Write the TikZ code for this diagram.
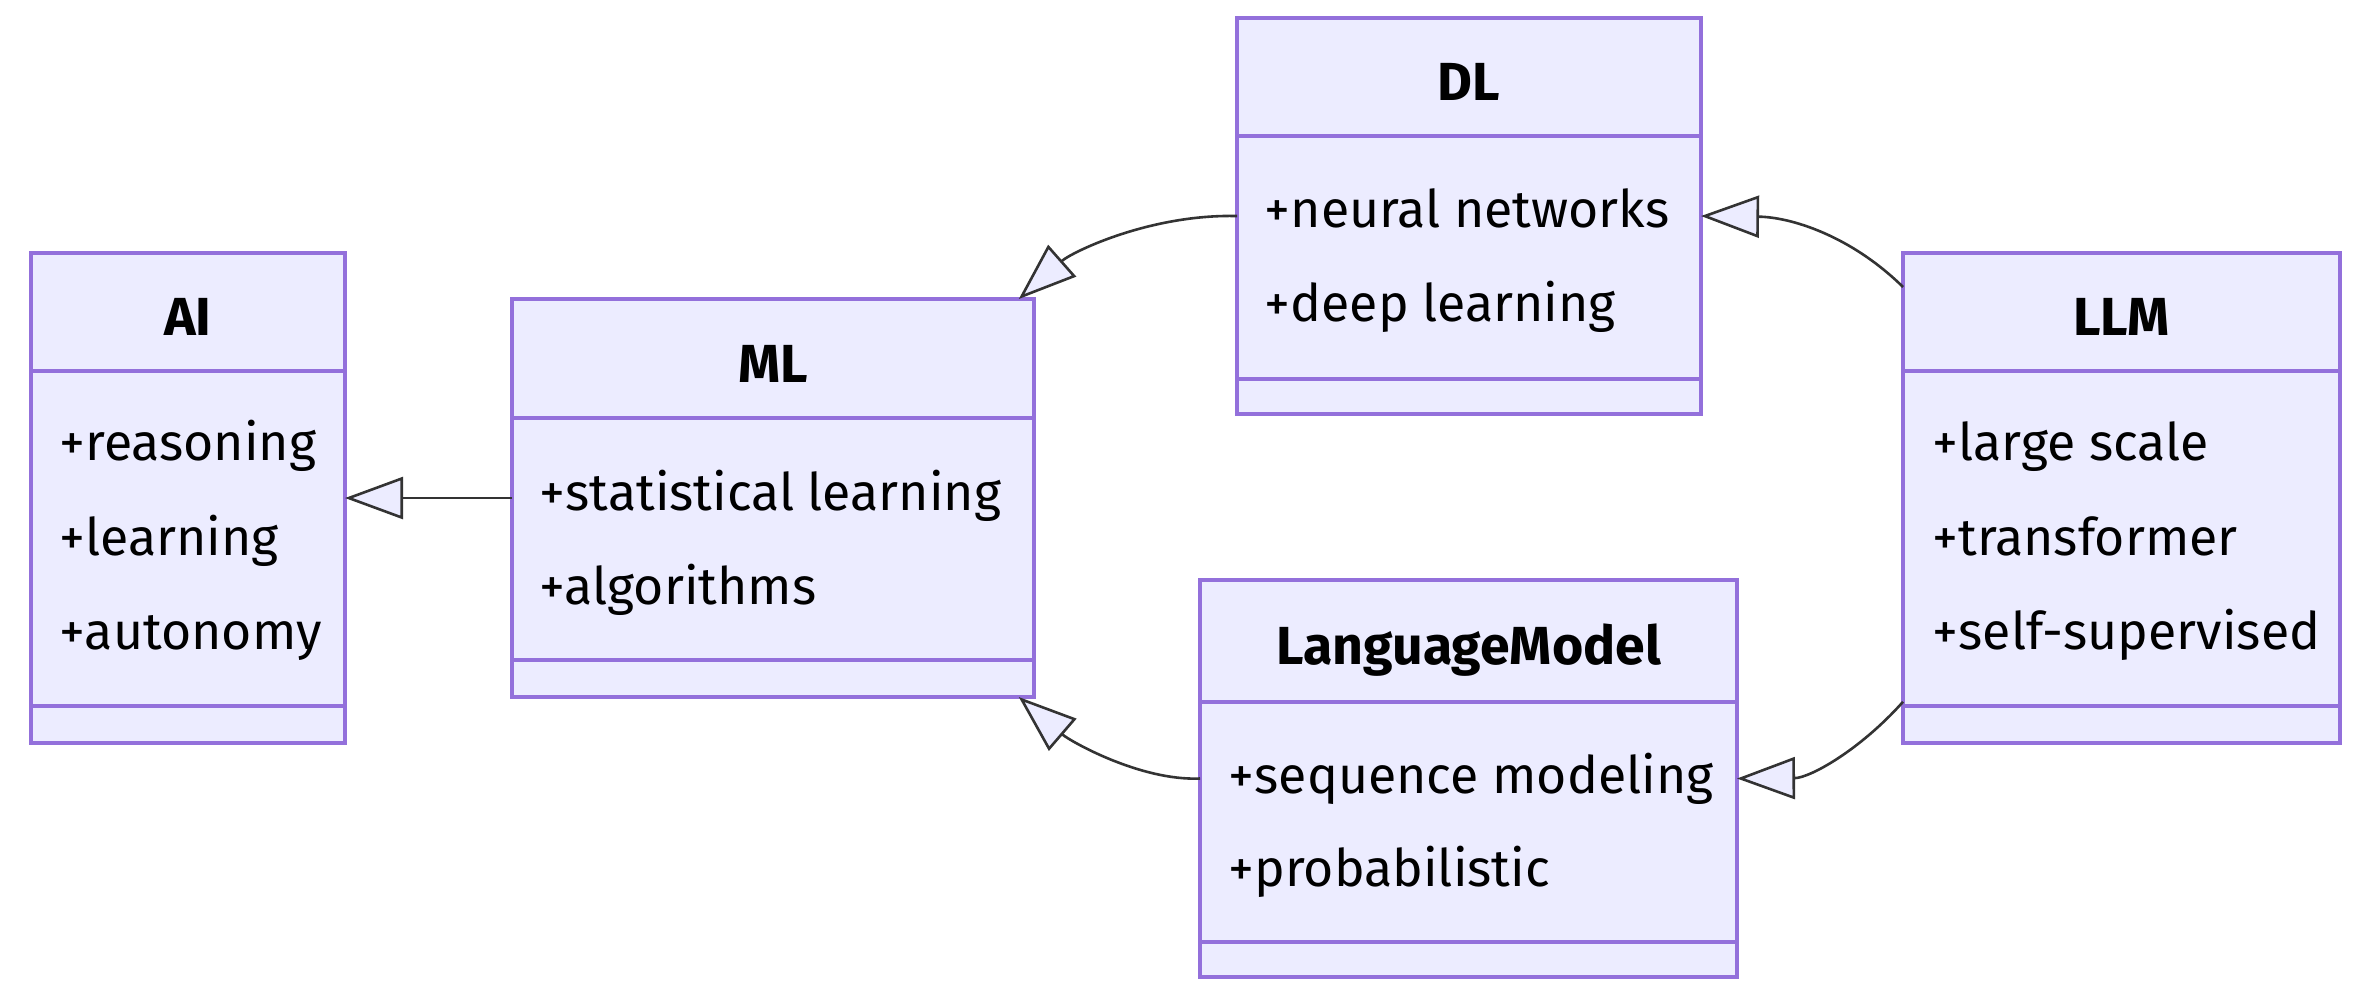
\documentclass[tikz,border=0pt]{standalone}
\usepackage{fontspec}
\setmainfont{Fira Sans}
\usetikzlibrary{arrows.meta}
\definecolor{umlfill}{HTML}{ECECFF}
\definecolor{umlline}{HTML}{9370DB}
\definecolor{edgecol}{HTML}{333333}
\tikzset{
  classbox/.style={draw=umlline, fill=umlfill, line width=0.95pt, inner sep=0pt, outer sep=0pt},
  divider/.style={draw=umlline, line width=0.95pt},
  classname/.style={font=\fontsize{13.4}{16}\selectfont\bfseries, anchor=base, inner sep=0pt},
  attr/.style={font=\fontsize{12.95}{15.5}\selectfont, anchor=mid west, inner sep=0pt},
  inherit/.style={draw=edgecol, line width=0.65pt, -{Triangle[length=14.5pt,width=10.5pt,fill=umlfill]}}
}
\begin{document}
\begin{tikzpicture}[x=0.25pt,y=-0.25pt]
\useasboundingbox (0,0) rectangle (2375,1000);

% AI
\node[classbox, minimum width=78.5pt, minimum height=122.5pt] (AI) at (188,498) {};
\draw[divider] (31,371) -- (345,371);
\draw[divider] (31,706) -- (345,706);
\node[classname] (AI-name) at (188,335) {AI};
\node[attr] (AI-1) at (59,450) {+reasoning};
\node[attr] (AI-2) at (59,545) {+learning};
\node[attr] (AI-3) at (59,639) {+autonomy};

% ML
\node[classbox, minimum width=130.5pt, minimum height=99.5pt] (ML) at (773,498) {};
\draw[divider] (512,418) -- (1034,418);
\draw[divider] (512,660) -- (1034,660);
\node[classname] (ML-name) at (773,382) {ML};
\node[attr] (ML-1) at (539,500) {+statistical learning};
\node[attr] (ML-2) at (539,594) {+algorithms};

% DL
\node[classbox, minimum width=116pt, minimum height=99pt] (DL) at (1469,216) {};
\draw[divider] (1237,136) -- (1701,136);
\draw[divider] (1237,379) -- (1701,379);
\node[classname] (DL-name) at (1469,100) {DL};
\node[attr] (DL-1) at (1264,217) {+neural networks};
\node[attr] (DL-2) at (1264,311) {+deep learning};

% LLM
\node[classbox, minimum width=109.25pt, minimum height=122.5pt] (LLM) at (2121.5,498) {};
\draw[divider] (1903,371) -- (2340,371);
\draw[divider] (1903,706) -- (2340,706);
\node[classname] (LLM-name) at (2121.5,335) {LLM};
\node[attr] (LLM-1) at (1932,450) {+large scale};
\node[attr] (LLM-2) at (1932,545) {+transformer};
\node[attr] (LLM-3) at (1932,639) {+self-supervised};

% LanguageModel
\node[classbox, minimum width=134.25pt, minimum height=99.25pt] (LM) at (1468.5,778.5) {};
\draw[divider] (1200,702) -- (1737,702);
\draw[divider] (1200,942) -- (1737,942);
\node[classname] (LM-name) at (1468.5,664) {LanguageModel};
\node[attr] (LM-1) at (1228,783) {+sequence modeling};
\node[attr] (LM-2) at (1228,876) {+probabilistic};

% connectors
\draw[inherit] (ML.west) -- (AI.east);
\draw[inherit] (DL.west) .. controls (1150,214) and (1072,252) .. (ML.39);
\draw[inherit] (LM.west) .. controls (1140,781) and (1070,741) .. (ML.-39);
\draw[inherit] (LLM.136.8) .. controls (1850,235) and (1790,217) .. (DL.east);
\draw[inherit] (LLM.223.2) .. controls (1860,750) and (1810,778) .. (LM.east);
\end{tikzpicture}
\end{document}
